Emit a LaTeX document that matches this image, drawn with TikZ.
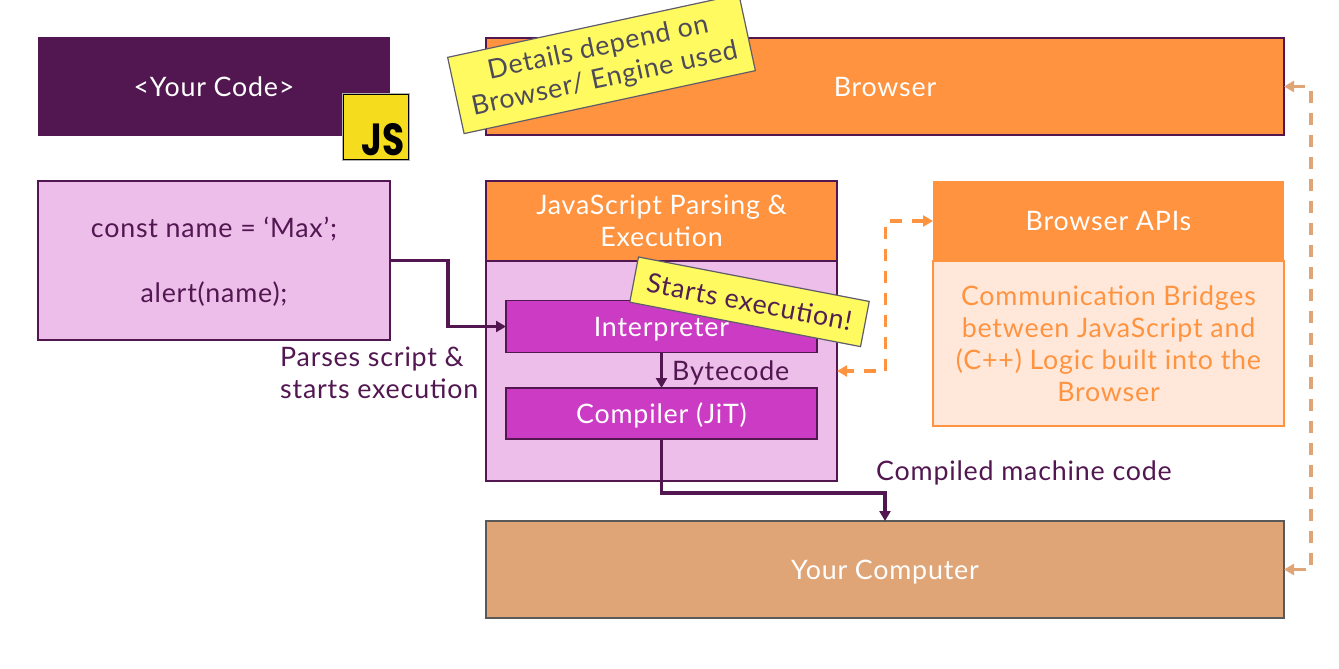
\documentclass[tikz,border=0pt]{standalone}
\usepackage{fontspec}
\setmainfont[LetterSpace=3]{Lato}
\newfontfamily\jsfont{Poppins}
\usetikzlibrary{arrows.meta,calc}
\definecolor{dpurple}{HTML}{521751}
\definecolor{lpurple}{HTML}{ECBEE9}
\definecolor{mpurple}{HTML}{CC3BC4}
\definecolor{orng}{HTML}{FF9340}
\definecolor{peach}{HTML}{FFE8D9}
\definecolor{tan}{HTML}{E0A577}
\definecolor{note}{HTML}{FFFA60}
\definecolor{notetext}{HTML}{4D4A5A}
\definecolor{jsyellow}{HTML}{F5DD1E}
\tikzset{
  x=1pt,y=-1pt,
  txt/.style={font=\fontsize{26.8}{32}\selectfont,align=center,inner sep=0pt},
  box/.style={txt,anchor=north west,outer sep=0pt,draw=dpurple,line width=1.5pt,text=white},
  oneline/.style={text height=19pt,text depth=0pt},
  notebox/.style={txt,draw=notetext!90,line width=1.2pt,fill=note,text=notetext,outer sep=0pt},
  lbl/.style={txt,text=dpurple},
  flow/.style={draw=dpurple,line width=3.5pt,-{Triangle[length=10pt,width=11pt]}},
  dashline/.style={line width=3.5pt,dash pattern=on 12pt off 10pt},
  dorange/.style={dashline,draw=orng,{Triangle[length=10pt,width=11pt]}-{Triangle[length=10pt,width=11pt]}},
  dtan/.style={dashline,draw=tan,{Triangle[length=10pt,width=11pt]}-{Triangle[length=10pt,width=11pt]}},
}
\begin{document}
\begin{tikzpicture}
\useasboundingbox (0,0) rectangle (1339,669);
\node[box,oneline,fill=dpurple,draw=none,minimum width=352pt,minimum height=99pt] (code) at (38,37) {<Your Code>};
\node[box,oneline,fill=orng,minimum width=798pt,minimum height=97pt] (browser) at (486,38) {Browser};
\node[box,fill=lpurple,text=dpurple,text depth=1pt,minimum width=352pt,minimum height=159pt] (script) at (38,181) {const name = ‘Max’;\\[33pt]alert(name);};
\node[box,fill=lpurple,minimum width=351pt,minimum height=220pt] (engine) at (486,261) {};
\node[box,fill=orng,minimum width=351pt,minimum height=80pt] (enginehead) at (486,181) {JavaScript Parsing \&\\Execution};
\node[box,oneline,fill=mpurple,minimum width=311pt,minimum height=52pt] (interp) at (506,300.5) {Interpreter};
\node[box,oneline,fill=mpurple,minimum width=311pt,minimum height=51pt] (comp) at (506,388) {Compiler (JiT)};
\node[box,fill=peach,draw=orng,text=orng,minimum width=351pt,minimum height=165pt] (apibody) at (933,261) {Communication Bridges\\between JavaScript and\\(C++) Logic built into the\\Browser};
\node[box,oneline,fill=orng,draw=none,minimum width=351pt,minimum height=80pt] (apihead) at (933,181) {Browser APIs};
\node[box,oneline,fill=tan,draw=black!65,minimum width=798pt,minimum height=97pt] (pc) at (486,521) {Your Computer};
\node[lbl,align=left,anchor=west] (parses) at (280,372.5) {Parses script \&\\starts execution};
\node[lbl,anchor=west] (bytelabel) at (672,373) {Bytecode};
\node[lbl,anchor=west] (machine) at (876,473) {Compiled machine code};
\draw[flow] (script.east) -- ++(58,0) |- (interp.west);
\draw[flow] (interp.south) -- (comp.north);
\draw[flow] (comp.south) -- ++(0,54) -| (pc.north);
\draw[dorange] (apihead.west) -- ++(-47.5,0) |- (engine.east);
\draw[dtan] (browser.east) -- ++(27,0) |- (pc.east);
\node[notebox,minimum width=298pt,minimum height=78pt,rotate=12.2] (note1) at (601.5,64) {Details depend on\\Browser/ Engine used};
\node[notebox,text=dpurple!85!notetext,minimum width=235pt,minimum height=46pt,rotate=-10.9] (note2) at (749.5,301.8) {Starts execution!};
\node[anchor=north west,inner sep=0pt,outer sep=0pt,fill=jsyellow,draw=black,line width=1.2pt,minimum width=65pt,minimum height=65pt] (jslogo) at (343.5,94.5) {};
\draw[black!30,line width=1pt] ($(jslogo.north west)+(-1.2,-1.2)$) rectangle ($(jslogo.south east)+(1.2,1.2)$);
\node[anchor=base east,inner sep=0pt,font=\jsfont\bfseries\fontsize{45}{45}\selectfont,text=black] (jstext) at (405,155) {\scalebox{0.8}[1]{JS}};
\end{tikzpicture}
\end{document}
